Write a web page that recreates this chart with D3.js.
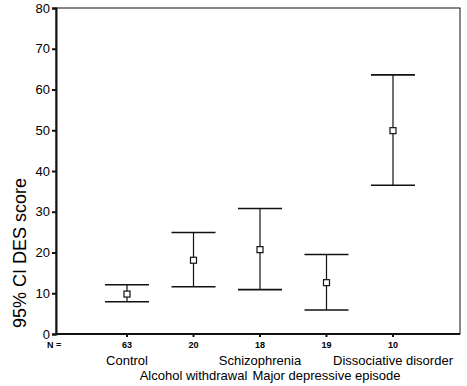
<!DOCTYPE html>
<html>
<head>
<meta charset="utf-8">
<script src="https://cdn.jsdelivr.net/npm/d3@7"></script>
<style>
  body { margin: 0; background: #fff; }
  text { font-family: Arial, "Liberation Sans", sans-serif; fill: #000; }
</style>
</head>
<body>
<svg id="chart"></svg>
<script>
const groups = ["Control", "Alcohol withdrawal", "Schizophrenia", "Major depressive episode", "Dissociative disorder"];
const counts = [63, 20, 18, 19, 10];
const means = [9.8, 18.1, 20.7, 12.6, 49.9];
const lowers = [7.9, 11.6, 10.9, 5.9, 36.5];
const uppers = [12.1, 24.9, 30.8, 19.5, 63.6];
const yTicks = [0, 10, 20, 30, 40, 50, 60, 70, 80];

const width = 467;
const height = 386;
const plotLeft = 56, plotRight = 460, plotTop = 8, plotBottom = 334;
const color = "#111";

const svg = d3.select("#chart")
  .attr("width", width)
  .attr("height", height);

const xScale = d3.scalePoint()
  .domain(groups)
  .range([127, 393]);

const yScale = d3.scaleLinear()
  .domain([0, 80])
  .range([plotBottom, plotTop]);

// frame
svg.append("rect")
  .attr("x", plotLeft)
  .attr("y", plotTop)
  .attr("width", plotRight - plotLeft)
  .attr("height", plotBottom - plotTop)
  .attr("fill", "none")
  .attr("stroke", color)
  .attr("stroke-width", 1);

// y axis
const yAxis = svg.append("g")
  .attr("transform", `translate(${plotLeft}, 0)`)
  .call(d3.axisLeft(yScale).tickValues(yTicks).tickSize(4).tickPadding(2));

yAxis.select(".domain").attr("stroke", color).attr("stroke-width", 2);
yAxis.selectAll(".tick line").attr("stroke", color).attr("stroke-width", 2);
yAxis.selectAll(".tick text")
  .style("font-family", "Arial, 'Liberation Sans', sans-serif")
  .style("font-size", "13px")
  .attr("fill", "#000");

// bottom axis line
svg.append("line")
  .attr("x1", plotLeft)
  .attr("x2", plotRight)
  .attr("y1", plotBottom)
  .attr("y2", plotBottom)
  .attr("stroke", color)
  .attr("stroke-width", 2);

// small ticks under the axis
svg.selectAll(".x-tick")
  .data(groups)
  .enter().append("line")
  .attr("class", "x-tick")
  .attr("x1", d => xScale(d))
  .attr("x2", d => xScale(d))
  .attr("y1", plotBottom)
  .attr("y2", plotBottom + 3)
  .attr("stroke", color)
  .attr("stroke-width", 2);

// y label
svg.append("text")
  .attr("transform", "translate(26, 253) rotate(-90)")
  .attr("text-anchor", "middle")
  .style("font-size", "18px")
  .text("95% CI DES score");

// N row
svg.append("text")
  .attr("x", 47)
  .attr("y", 348)
  .style("font-size", "9px")
  .style("font-weight", "bold")
  .text("N =");

svg.selectAll(".n-label")
  .data(groups)
  .enter().append("text")
  .attr("class", "n-label")
  .attr("x", d => xScale(d))
  .attr("y", 348)
  .attr("text-anchor", "middle")
  .style("font-size", "9px")
  .style("font-weight", "bold")
  .text((d, i) => counts[i]);

// category labels, staggered
svg.selectAll(".cat-label")
  .data(groups)
  .enter().append("text")
  .attr("class", "cat-label")
  .attr("x", d => xScale(d))
  .attr("y", (d, i) => i % 2 === 0 ? 365 : 380)
  .attr("text-anchor", "middle")
  .style("font-size", "13px")
  .text(d => d);

// error bars
const capHalf = 22;
const bars = svg.selectAll(".bar")
  .data(groups)
  .enter().append("g")
  .attr("class", "bar");

bars.append("line")
  .attr("x1", d => xScale(d))
  .attr("x2", d => xScale(d))
  .attr("y1", (d, i) => yScale(uppers[i]))
  .attr("y2", (d, i) => yScale(lowers[i]))
  .attr("stroke", color)
  .attr("stroke-width", 1.2);

bars.append("line")
  .attr("x1", d => xScale(d) - capHalf)
  .attr("x2", d => xScale(d) + capHalf)
  .attr("y1", (d, i) => yScale(uppers[i]))
  .attr("y2", (d, i) => yScale(uppers[i]))
  .attr("stroke", color)
  .attr("stroke-width", 1.6);

bars.append("line")
  .attr("x1", d => xScale(d) - capHalf)
  .attr("x2", d => xScale(d) + capHalf)
  .attr("y1", (d, i) => yScale(lowers[i]))
  .attr("y2", (d, i) => yScale(lowers[i]))
  .attr("stroke", color)
  .attr("stroke-width", 1.6);

bars.append("rect")
  .attr("x", d => xScale(d) - 3)
  .attr("y", (d, i) => yScale(means[i]) - 3)
  .attr("width", 6)
  .attr("height", 6)
  .attr("fill", "#fff")
  .attr("stroke", color)
  .attr("stroke-width", 1.2);
</script>
</body>
</html>
